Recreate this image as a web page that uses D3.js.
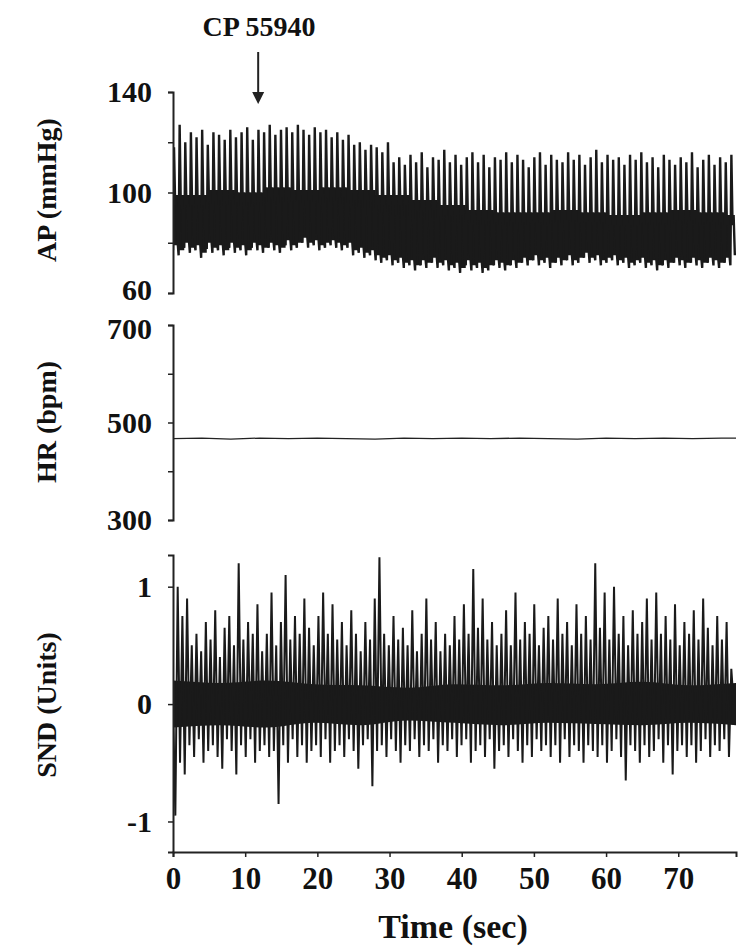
<!DOCTYPE html>
<html>
<head>
<meta charset="utf-8">
<script src="https://cdn.jsdelivr.net/npm/d3@7"></script>
<style>
body { margin: 0; background: #fff; }
text { font-family: "Liberation Serif", "DejaVu Serif", serif; font-weight: bold; fill: #111; }
</style>
</head>
<body>
<svg id="canvas" width="750" height="947"></svg>
<script>
// values
let beatPeriod = 0.78; // sec between visible AP peaks
let apSys = [118,127,120,124,122,125,119,124,123,121, 125,122,124,126,121,125,124,127,123,125,
  126,124,127,125,123,126,124,125,122,124, 121,123,119,120,117,119,118,116,120,112,
  114,111,115,112,116,110,114,113,117,112, 115,111,114,116,112,115,110,114,113,116,
  112,115,113,110,114,116,111,115,113,112, 116,113,115,111,114,117,112,115,113,114,
  111,115,113,116,112,114,110,115,113,111, 114,112,116,110,113,115,111,114,112,115];
let apDia = [77,75,78,76,77,74,78,76,77,75, 78,76,77,75,78,77,76,78,77,76,
  79,77,78,80,78,79,77,78,79,78, 77,78,75,76,74,75,73,72,73,71,
  72,70,71,69,71,70,72,70,71,69, 70,68,71,69,70,68,69,71,70,69,
  71,70,72,71,73,71,72,70,72,71, 73,71,72,74,72,73,71,72,73,71,
  72,70,71,72,70,71,69,71,70,72, 71,70,72,71,70,72,71,70,72,71];
let bandStep = 4; // sec between band-top readings
let apBandTop = [99,101,100,102,101,102,101,99,97,95,93,92,92,93,92,91,92,93,92,91,92];

let hrTimes = [0,4,8,12,16,20,24,28,32,36,40,44,48,52,56,60,64,68,72,76,78];
let hrValues = [467,468,466,468,467,468,467,466,468,467,468,467,468,467,466,468,467,468,467,468,468];

let sndStep = 0.325;
let sndValues = [
  0.0,-0.95,1.0,-0.5,0.75,-0.6,0.9,-0.35,0.5,-0.45,0.6,-0.3,0.45,-0.5,0.7,-0.4,0.55,-0.35,0.8,-0.45,
  0.4,-0.55,0.65,-0.3,0.75,-0.4,0.5,-0.6,1.2,-0.35,0.55,-0.45,0.7,-0.3,0.6,-0.5,0.85,-0.4,0.45,-0.35,
  0.6,-0.45,0.95,-0.4,0.5,-0.85,0.7,-0.35,1.1,-0.5,0.55,-0.3,0.75,-0.45,0.6,-0.35,0.9,-0.5,0.65,-0.4,
  0.5,-0.35,0.75,-0.45,0.95,-0.3,0.6,-0.5,0.85,-0.4,0.55,-0.35,0.7,-0.45,0.5,-0.3,0.8,-0.4,0.6,-0.55,
  0.45,-0.35,0.7,-0.3,0.55,-0.7,0.9,-0.4,1.25,-0.35,0.6,-0.45,0.5,-0.3,0.75,-0.4,0.55,-0.5,0.65,-0.35,
  0.5,-0.4,0.8,-0.3,0.45,-0.45,0.6,-0.35,0.9,-0.4,0.55,-0.3,0.7,-0.5,0.45,-0.35,0.6,-0.4,0.5,-0.3,
  0.75,-0.45,0.55,-0.35,0.85,-0.3,0.6,-0.5,1.15,-0.4,0.65,-0.35,0.9,-0.45,0.55,-0.3,0.7,-0.55,0.5,-0.4,
  0.6,-0.35,0.8,-0.45,0.5,-0.3,0.95,-0.4,0.55,-0.5,0.7,-0.35,0.6,-0.45,0.85,-0.3,0.5,-0.4,0.65,-0.35,
  0.75,-0.45,0.55,-0.35,0.9,-0.5,0.6,-0.3,0.7,-0.45,0.5,-0.35,0.85,-0.4,0.6,-0.5,0.75,-0.35,0.55,-0.4,
  1.2,-0.45,0.65,-0.35,0.95,-0.5,0.55,-0.4,1.0,-0.3,0.6,-0.45,0.75,-0.65,0.5,-0.35,0.8,-0.4,0.6,-0.5,
  0.7,-0.35,0.9,-0.45,0.55,-0.4,0.95,-0.3,0.6,-0.5,0.75,-0.35,0.55,-0.6,0.85,-0.4,0.5,-0.35,0.7,-0.45,
  0.6,-0.35,0.8,-0.5,0.55,-0.4,0.9,-0.3,0.65,-0.45,0.5,-0.35,0.75,-0.4,0.55,-0.3,0.7,-0.45,0.3,0.0];
// solid core of the SND trace, one reading per 6.5 sec
let sndCoreStep = 6.5;
let sndCoreHi = [0.2,0.18,0.2,0.17,0.16,0.14,0.17,0.16,0.18,0.17,0.19,0.16,0.18];
let sndCoreLo = [-0.2,-0.18,-0.2,-0.16,-0.18,-0.14,-0.16,-0.18,-0.16,-0.17,-0.18,-0.16,-0.18];

let xTicks = [0,10,20,30,40,50,60,70];
let apLabels = [60, 100, 140];
let hrLabels = [300, 500, 700];

let canvas = d3.select("#canvas");
canvas.append("clipPath").attr("id", "plot").append("rect")
    .attr("x", 173).attr("y", 0).attr("width", 563).attr("height", 947);

let x = d3.scaleLinear().domain([0, 78]).range([173, 736]);
let yAP = d3.scaleLinear().domain([60, 140]).range([293, 92]);
let yHR = d3.scaleLinear().domain([300, 700]).range([520, 325]);
let ySND = d3.scaleLinear().domain([-1.26, 1.27]).range([852, 555]);

let styleAxis = (g) => {
    g.select(".domain").attr("stroke", "#222").attr("stroke-width", 2);
    g.selectAll(".tick line").attr("stroke", "#222").attr("stroke-width", 1.5);
    g.selectAll(".tick text").style("font-size", "30px").attr("fill", "#111");
}

// AP trace: dense band + spikes
let bandTopAt = t => apBandTop[Math.min(apBandTop.length - 1, Math.floor(t / bandStep))];
let apPts = [];
apSys.forEach((s, i) => {
    let t = i * beatPeriod;
    let top = bandTopAt(t);
    apPts.push([t, apDia[i]]);
    apPts.push([t + 0.14, s]);
    apPts.push([t + 0.3, top - 4]);
    apPts.push([t + 0.45, top]);
    apPts.push([t + 0.62, apDia[i] + 4]);
});

let apG = canvas.append("g").attr("clip-path", "url(#plot)");
apG.append("path")
    .datum(apSys.map((s, i) => [i * beatPeriod, apDia[i] + 2, bandTopAt(i * beatPeriod)]))
    .attr("fill", "#1a1a1a")
    .attr("d", d3.area().x(d => x(d[0])).y0(d => yAP(d[1])).y1(d => yAP(d[2])).curve(d3.curveStepAfter));
apG.append("path")
    .datum(apPts)
    .attr("fill", "none").attr("stroke", "#1a1a1a").attr("stroke-width", 2.4)
    .attr("d", d3.line().x(d => x(d[0])).y(d => yAP(d[1])));

let apAxis = canvas.append("g").attr("transform", "translate(173,0)")
    .call(d3.axisLeft(yAP).tickValues([60, 80, 100, 120, 140]).tickSize(5).tickPadding(16)
        .tickFormat(d => apLabels.includes(d) ? d : ""));
styleAxis(apAxis);
apAxis.selectAll(".tick text").filter(d => d === 60).attr("dy", "0.2em");

// HR
canvas.append("path")
    .datum(hrValues)
    .attr("fill", "none").attr("stroke", "#222").attr("stroke-width", 1.3)
    .attr("d", d3.line().x((d, i) => x(hrTimes[i])).y(d => yHR(d)));
let hrAxis = canvas.append("g").attr("transform", "translate(173,0)")
    .call(d3.axisLeft(yHR).tickValues([300, 400, 500, 600, 700]).tickSize(5).tickPadding(16)
        .tickFormat(d => hrLabels.includes(d) ? d : ""));
styleAxis(hrAxis);
hrAxis.selectAll(".tick text").filter(d => d === 700).attr("dy", "0.45em");

// SND
let sndG = canvas.append("g").attr("clip-path", "url(#plot)");
sndG.append("path")
    .datum(sndCoreHi)
    .attr("fill", "#1a1a1a")
    .attr("d", d3.area().x((d, i) => x(Math.min(78, i * sndCoreStep)))
        .y0((d, i) => ySND(sndCoreLo[i])).y1(d => ySND(d)).curve(d3.curveMonotoneX));
sndG.append("path")
    .datum(sndValues)
    .attr("fill", "none").attr("stroke", "#1a1a1a").attr("stroke-width", 2)
    .attr("d", d3.line().x((d, i) => x(i * sndStep)).y(d => ySND(d)));
let sndAxis = canvas.append("g").attr("transform", "translate(173,0)")
    .call(d3.axisLeft(ySND).tickValues([-1, 0, 1]).tickSize(5).tickPadding(16)
        .tickFormat(d => d === -1 ? "-1" : String(d)));
styleAxis(sndAxis);

// time axis
let xAxis = canvas.append("g").attr("transform", "translate(0,852)")
    .call(d3.axisBottom(x).tickValues(xTicks).tickSize(5).tickPadding(10));
styleAxis(xAxis);
xAxis.selectAll(".tick text").style("font-size", "31px");

// labels
let yLabel = (txt, cy) => canvas.append("text")
    .attr("transform", `translate(56,${cy}) rotate(-90)`)
    .attr("text-anchor", "middle").style("font-size", "28px").text(txt);
yLabel("AP (mmHg)", 190);
yLabel("HR (bpm)", 422);
yLabel("SND (Units)", 705);

canvas.append("text").attr("x", 453).attr("y", 938).attr("text-anchor", "middle")
    .style("font-size", "34px").text("Time (sec)");

canvas.append("text").attr("x", 259).attr("y", 36).attr("text-anchor", "middle")
    .style("font-size", "28px").text("CP 55940");
canvas.append("line").attr("x1", x(11.8)).attr("x2", x(11.8)).attr("y1", 52).attr("y2", 96)
    .attr("stroke", "#222").attr("stroke-width", 2);
canvas.append("path").attr("d", `M${x(11.8) - 6},92 L${x(11.8) + 6},92 L${x(11.8)},104 Z`).attr("fill", "#222");
</script>
</body>
</html>
